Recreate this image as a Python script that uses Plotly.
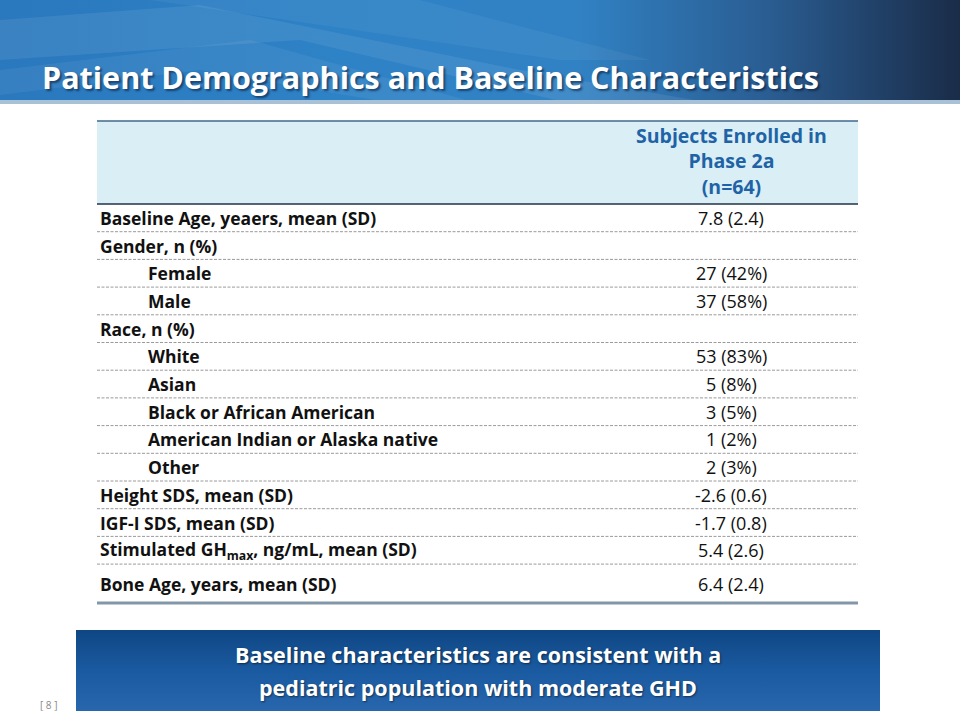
import plotly.graph_objects as go

# table content
row_labels = [
    "Baseline Age, yeaers, mean (SD)",
    "Gender, n (%)",
    "Female",
    "Male",
    "Race, n (%)",
    "White",
    "Asian",
    "Black or African American",
    "American Indian or Alaska native",
    "Other",
    "Height SDS, mean (SD)",
    "IGF-I SDS, mean (SD)",
    "Stimulated GH<sub>max</sub>, ng/mL, mean (SD)",
    "Bone Age, years, mean (SD)",
]
row_indent = [0, 0, 1, 1, 0, 1, 1, 1, 1, 1, 0, 0, 0, 0]
row_values = [
    "7.8 (2.4)", "", "27 (42%)", "37 (58%)", "",
    "53 (83%)", "5 (8%)", "3 (5%)", "1 (2%)", "2 (3%)",
    "-2.6 (0.6)", "-1.7 (0.8)", "5.4 (2.6)", "6.4 (2.4)",
]
col_header = "Subjects Enrolled in<br>Phase 2a<br>(n=64)"
title = "Patient Demographics and Baseline Characteristics"
takeaway = ["Baseline characteristics are consistent with a",
            "pediatric population with moderate GHD"]
page_no = "[ 8 ]"

FONT = "Open Sans"
W, H = 960, 720
tx0, tx1 = 97, 858          # table left/right
head_top, head_bot = 121, 204
row_h = 27.7
last_h = 39
val_x = 731

fig = go.Figure()

# slide header band with horizontal gradient
fig.add_trace(go.Scatter(
    x=[0, W, W, 0, 0], y=[0, 0, 101, 101, 0], fill="toself", mode="none",
    fillgradient=dict(type="horizontal", colorscale=[
        [0, "#2a78bd"], [0.35, "#2e82c6"], [0.6, "#3182c4"],
        [0.8, "#2a5d92"], [1, "#1a2c48"]]),
    hoverinfo="skip", showlegend=False))

# faint light streaks in the header
for pts, op in [
    ([(0, 20), (200, 5), (520, 70), (700, 101), (560, 101), (300, 40), (0, 60)], 0.08),
    ([(0, 70), (250, 40), (470, 101), (380, 101), (200, 70), (0, 95)], 0.06),
    ([(150, 0), (420, 0), (650, 60), (560, 60)], 0.05),
]:
    xs = [p[0] for p in pts] + [pts[0][0]]
    ys = [p[1] for p in pts] + [pts[0][1]]
    fig.add_trace(go.Scatter(x=xs, y=ys, fill="toself", mode="none",
                             fillcolor=f"rgba(255,255,255,{op})",
                             hoverinfo="skip", showlegend=False))

# takeaway box, vertical gradient
bx0, bx1, by0, by1 = 76, 880, 630, 711
fig.add_trace(go.Scatter(
    x=[bx0, bx1, bx1, bx0, bx0], y=[by0, by0, by1, by1, by0], fill="toself", mode="none",
    fillgradient=dict(type="vertical", colorscale=[
        [0, "#2866ae"], [0.5, "#1a5aa0"], [1, "#0f4684"]]),
    hoverinfo="skip", showlegend=False))

shapes = []
annotations = []

# light strip under the header
shapes.append(dict(type="rect", x0=0, x1=W, y0=100, y1=104, line_width=0,
                   fillcolor="#a9c1d6", layer="above"))

# table header
shapes.append(dict(type="rect", x0=tx0, x1=tx1, y0=head_top, y1=head_bot,
                   line_width=0, fillcolor="#daeef5", layer="below"))
shapes.append(dict(type="line", x0=tx0, x1=tx1, y0=head_top, y1=head_top,
                   line=dict(color="#3f6a8c", width=1.5)))
shapes.append(dict(type="line", x0=tx0, x1=tx1, y0=head_bot, y1=head_bot,
                   line=dict(color="#1f3347", width=1.5)))
annotations.append(dict(x=val_x, y=(head_top + head_bot) / 2 - 2, text=col_header,
                        showarrow=False, xanchor="center", yanchor="middle",
                        font=dict(family=FONT, size=19.5, color="#1f63a6", weight="bold"),
                        align="center"))

# body rows
y = head_bot
for i, (lab, ind, val) in enumerate(zip(row_labels, row_indent, row_values)):
    h = last_h if i == len(row_labels) - 1 else row_h
    yc = y + h / 2
    annotations.append(dict(x=tx0 + 1 + 48 * ind, y=yc, text=lab, showarrow=False,
                            xanchor="left", yanchor="middle",
                            font=dict(family=FONT, size=17.5, color="#111111", weight="bold")))
    if val:
        annotations.append(dict(x=val_x, y=yc, text=val, showarrow=False,
                                xanchor="center", yanchor="middle",
                                font=dict(family=FONT, size=18, color="#111111")))
    y += h
    if i < len(row_labels) - 1:
        shapes.append(dict(type="line", x0=tx0, x1=tx1, y0=y, y1=y,
                           line=dict(color="#9a9a9a", width=1, dash="3px,1.5px")))
    else:
        shapes.append(dict(type="line", x0=tx0, x1=tx1, y0=y, y1=y,
                           line=dict(color="#8497a8", width=3)))

# title with drop shadow
annotations.append(dict(x=40, y=77, text=title, showarrow=False,
                        xanchor="left", yanchor="middle",
                        font=dict(family=FONT, size=30.5, color="white", weight="bold",
                                  shadow="2px 2px 2px rgba(10,30,60,0.6)")))

# takeaway text
for k, line in enumerate(takeaway):
    annotations.append(dict(x=(bx0 + bx1) / 2, y=654 + 33 * k, text=line,
                            showarrow=False, xanchor="center", yanchor="middle",
                            font=dict(family=FONT, size=21.5, color="white", weight="bold",
                                      shadow="1px 1px 2px rgba(0,0,0,0.5)")))

annotations.append(dict(x=48, y=705, text=page_no, showarrow=False, xanchor="center",
                        yanchor="middle", font=dict(family=FONT, size=10, color="#8a8a8a")))

fig.update_layout(
    width=W, height=H, margin=dict(l=0, r=0, t=0, b=0),
    paper_bgcolor="white", plot_bgcolor="white",
    xaxis=dict(range=[0, W], visible=False, fixedrange=True),
    yaxis=dict(range=[H, 0], visible=False, fixedrange=True),
    shapes=shapes, annotations=annotations, showlegend=False,
)

fig.write_html("out.html", config={"displayModeBar": False},
               post_script="document.body.style.margin='0';document.body.style.overflow='hidden';")
